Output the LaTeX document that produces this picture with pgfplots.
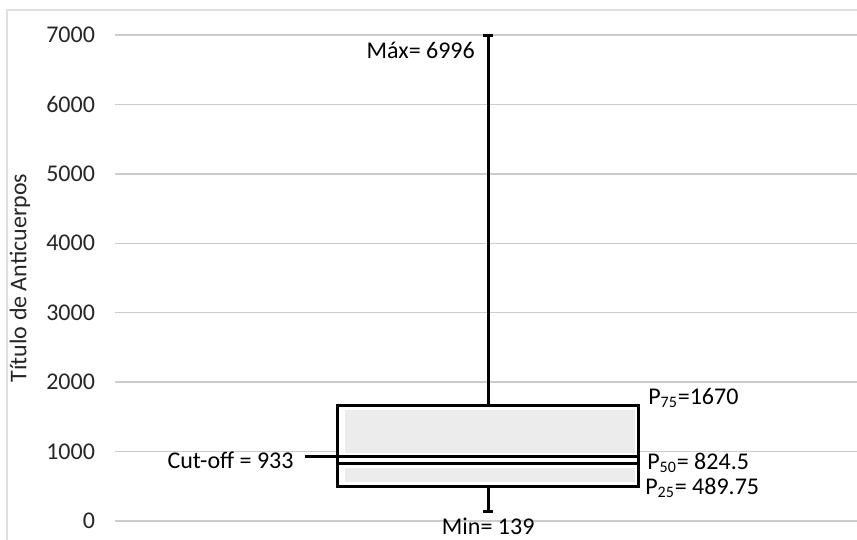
\documentclass[border=0pt]{standalone}
\usepackage{fontspec}
\setmainfont{Carlito}
\usepackage{pgfplots}
\pgfplotsset{compat=1.18}
\usepgfplotslibrary{statistics}
\begin{document}
\begin{tikzpicture}
\begin{axis}[
  name=ax,
  scale only axis,
  width=371pt, height=243pt,
  xmin=0, xmax=1, ymin=0, ymax=7000,
  clip=false,
  axis line style={draw=none},
  major tick length=0pt,
  xtick=\empty,
  ytick={0,1000,...,7000},
  ymajorgrids,
  grid style={gray!40, line width=0.75pt},
  /pgf/number format/assume math mode=true,
  /pgf/number format/set thousands separator={},
  tick label style={font=\fontsize{12}{14}\selectfont, text=black!85},
  yticklabel style={xshift=-6.5pt},
  ylabel={Título de Anticuerpos},
  ylabel style={at={(axis description cs:-0.128,0.5)}, anchor=center, rotate=0, font=\fontsize{12}{14}\selectfont, text=black!85},
  boxplot/draw direction=y,
]
\addplot[fill=white, draw=none, mark=none] coordinates {(0.30,489.75) (0.706,489.75) (0.706,1670) (0.30,1670)} -- cycle;
\addplot[fill=gray!15, draw=none, mark=none] coordinates {(0.310,562) (0.701,562) (0.701,763) (0.310,763)} -- cycle;
\addplot[fill=gray!15, draw=none, mark=none] coordinates {(0.310,979) (0.701,979) (0.701,1599) (0.310,1599)} -- cycle;
\addplot[black, line width=1.5pt, mark=none,
  boxplot prepared={
    lower whisker=139,
    lower quartile=489.75,
    median=824.5,
    upper quartile=1670,
    upper whisker=6996,
    draw position=0.503,
    box extend=0.406,
    whisker extend=0.013
  }] coordinates {};
\addplot[black, line width=1.5pt, mark=none] coordinates {(0.256,933) (0.706,933)};
\begin{scope}[font=\fontsize{12}{14}\selectfont, inner sep=0pt]
\node[anchor=east, xshift=-6.5pt, yshift=-7.5pt] at (axis cs:0.503,6996) {Máx= 6996};
\node[anchor=north, yshift=-3pt] at (axis cs:0.503,139) {Min= 139};
\node[anchor=west, xshift=4.5pt, yshift=3.5pt] at (axis cs:0.706,1670) {P\textsubscript{75}=1670};
\node[anchor=west, xshift=4pt, yshift=0.5pt] at (axis cs:0.706,824.5) {P\textsubscript{50}= 824.5};
\node[anchor=west, xshift=3pt, yshift=-0.5pt] at (axis cs:0.706,489.75) {P\textsubscript{25}= 489.75};
\node[anchor=east, xshift=-5.5pt, yshift=-2pt] at (axis cs:0.256,933) {Cut-off = 933};
\end{scope}
\end{axis}
\draw[gray!25, line width=0.6pt] ([shift={(-54pt,-20pt)}]ax.south west) |- ([shift={(10pt,12.5pt)}]ax.north east);
\pgfresetboundingbox
\path ([shift={(-57.5pt,-9.5pt)}]ax.south west) rectangle ([shift={(0pt,17.5pt)}]ax.north east);
\end{tikzpicture}
\end{document}
